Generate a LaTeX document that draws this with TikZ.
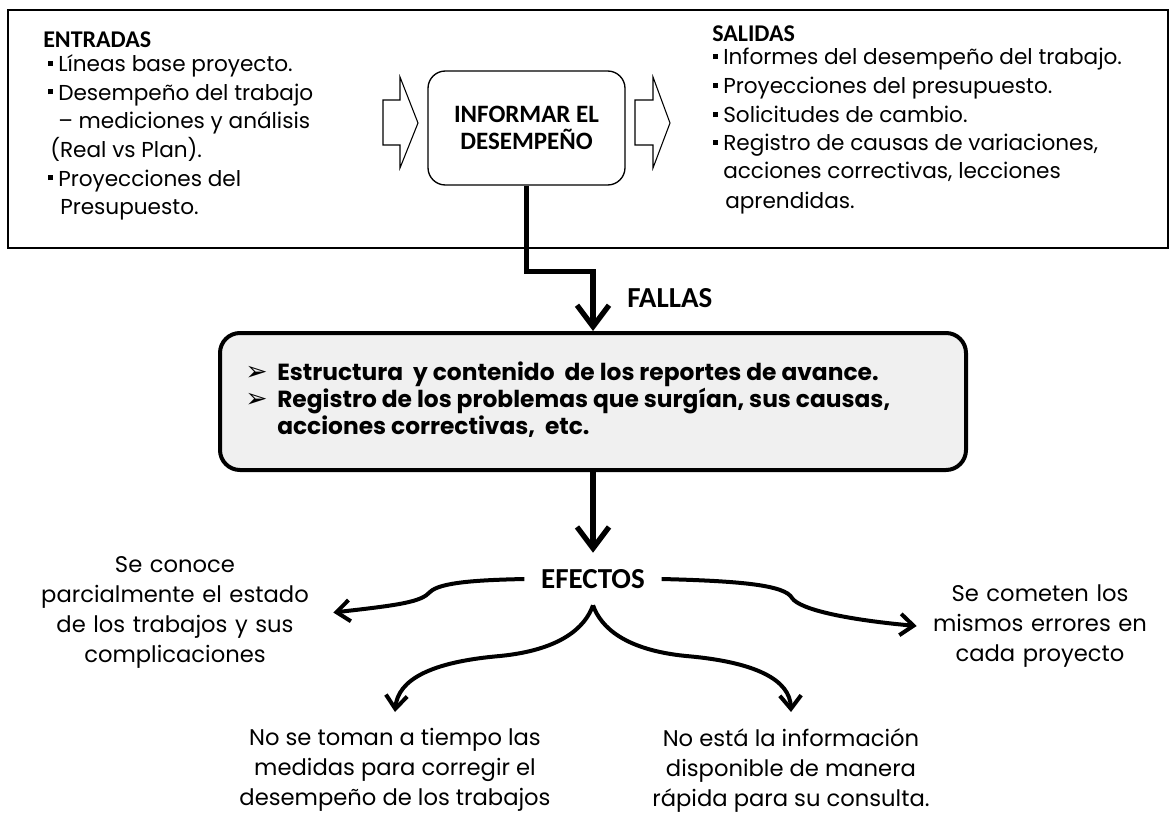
\documentclass[tikz,border=0pt]{standalone}
\usepackage{fontspec}
\setmainfont{Poppins}
\newfontfamily\hfont{Carlito}
\newfontfamily\djv{DejaVu Sans}
\usetikzlibrary{arrows.meta}
\definecolor{fillg}{RGB}{240,240,240}
\newcommand{\sqb}{\rule[4.5pt]{3.75pt}{3.75pt}\hspace{3.75pt}}
\newcommand{\arwb}{\makebox[24pt][l]{\djv\fontsize{20}{20}\selectfont ➢}}
\begin{document}
\begin{tikzpicture}[x=0.75pt,y=-0.75pt,
  bt/.style={anchor=base west,inner sep=0pt,font=\fontsize{16.2}{20}\selectfont},
  hd/.style={anchor=base west,inner sep=0pt,font=\hfont\bfseries\fontsize{18}{20}\selectfont},
  hdb/.style={inner sep=0pt,font=\hfont\bfseries\fontsize{21.75}{24}\selectfont},
  ft/.style={anchor=base west,inner sep=0pt,font=\bfseries\fontsize{17.5}{20}\selectfont},
  eft/.style={align=center,font=\fontsize{17}{22.5}\selectfont},
  bigline/.style={line width=4pt,-{Straight Barb[length=16pt,width=24pt]}},
  crv/.style={line width=3pt,-{Straight Barb[length=10pt,width=16pt]}},
  hollow/.style={draw,line width=0.8pt,fill=white}]
\useasboundingbox (0,0) rectangle (1170,813);
\fill[white] (0,0) rectangle (1170,813);

% top frame
\node[draw,line width=1.5pt,minimum width=870pt,minimum height=178.5pt,inner sep=0pt] (topbox) at (588,129) {};

% inputs
\node[hd] (ent) at (43,48) {ENTRADAS};
\node[bt] (e1) at (48,72) {\sqb Líneas base proyecto.};
\node[bt] (e2) at (48,100.5) {\sqb Desempeño del trabajo};
\node[bt] (e3) at (58,129) {– mediciones y análisis};
\node[bt] (e4) at (50,157.5) {(Real vs Plan).};
\node[bt] (e5) at (48,186) {\sqb Proyecciones del};
\node[bt] (e6) at (60,214.5) {Presupuesto.};

% outputs
\node[hd] (sal) at (712,42) {SALIDAS};
\node[bt] (s1) at (713,65) {\sqb Informes del desempeño del trabajo.};
\node[bt] (s2) at (713,94) {\sqb Proyecciones del presupuesto.};
\node[bt] (s3) at (713,123) {\sqb Solicitudes de cambio.};
\node[bt] (s4) at (713,151) {\sqb Registro de causas de variaciones,};
\node[bt] (s5) at (723,179) {acciones correctivas, lecciones};
\node[bt] (s6) at (725,208) {aprendidas.};

% hollow arrows
\draw[hollow] (383,100) -- (400,100) -- (400,77) -- (418,123) -- (400,168) -- (400,145) -- (383,145) -- cycle;
\draw[hollow] (635,100) -- (653,100) -- (653,77) -- (670,123) -- (653,168) -- (653,145) -- (635,145) -- cycle;

% process
\node[draw,line width=1pt,rounded corners=13pt,minimum width=147.75pt,minimum height=85.5pt,align=center,
      font=\hfont\bfseries\fontsize{18.75}{20.25}\selectfont] (proc) at (526.5,128) {INFORMAR EL\\DESEMPEÑO};

% fallas box
\node[draw,line width=3pt,rounded corners=15pt,fill=fillg,minimum width=559.5pt,minimum height=102.75pt] (fallas) at (593,401.5) {};
\node[ft] (f1) at (245,380) {\arwb Estructura\ \ y contenido\ \ de los reportes de avance.};
\node[ft] (f2) at (245,407) {\arwb Registro de los problemas que surgían, sus causas,};
\node[ft] (f3) at (277,434) {acciones correctivas,\ \ etc.};

\node[hdb,anchor=base west] (fl) at (627,307) {FALLAS};
\draw[bigline] (proc.south) -- ++(0,86) -| (fallas.north);

% efectos
\node[hdb,minimum height=39pt,inner xsep=12.4pt] (efectos) at (593,579) {EFECTOS};
\draw[bigline] (fallas.south) -- (efectos.north);

\node[eft,text width=225pt,inner xsep=6pt] (sc) at (175,612.5) {Se conoce\\parcialmente el estado\\de los trabajos y sus\\complicaciones};
\node[eft,text width=165pt,inner xsep=9.75pt] (sm) at (1040,626) {Se cometen los\\mismos errores en\\cada proyecto};
\node[eft,anchor=north,inner ysep=12pt] (nt) at (395,712) {No se toman a tiempo las\\medidas para corregir el\\desempeño de los trabajos};
\node[eft,anchor=north,inner ysep=12pt] (ni) at (791,712) {No está la información\\disponible de manera\\rápida para su consulta.};

\draw[crv] (efectos.west) .. controls (480,580) and (440,582) .. (430,592) .. controls (421,602) and (400,605) .. (sc.east);
\draw[crv] (efectos.east) .. controls (740,581) and (785,585) .. (792,598) .. controls (800,610) and (850,620) .. (sm.west);
\draw[crv] (efectos.south) .. controls (585,628) and (560,650) .. (500,656) .. controls (430,662) and (398,680) .. (nt.north);
\draw[crv] (efectos.south) .. controls (601,628) and (626,650) .. (686,656) .. controls (756,662) and (790,680) .. (ni.north);
\end{tikzpicture}
\end{document}
